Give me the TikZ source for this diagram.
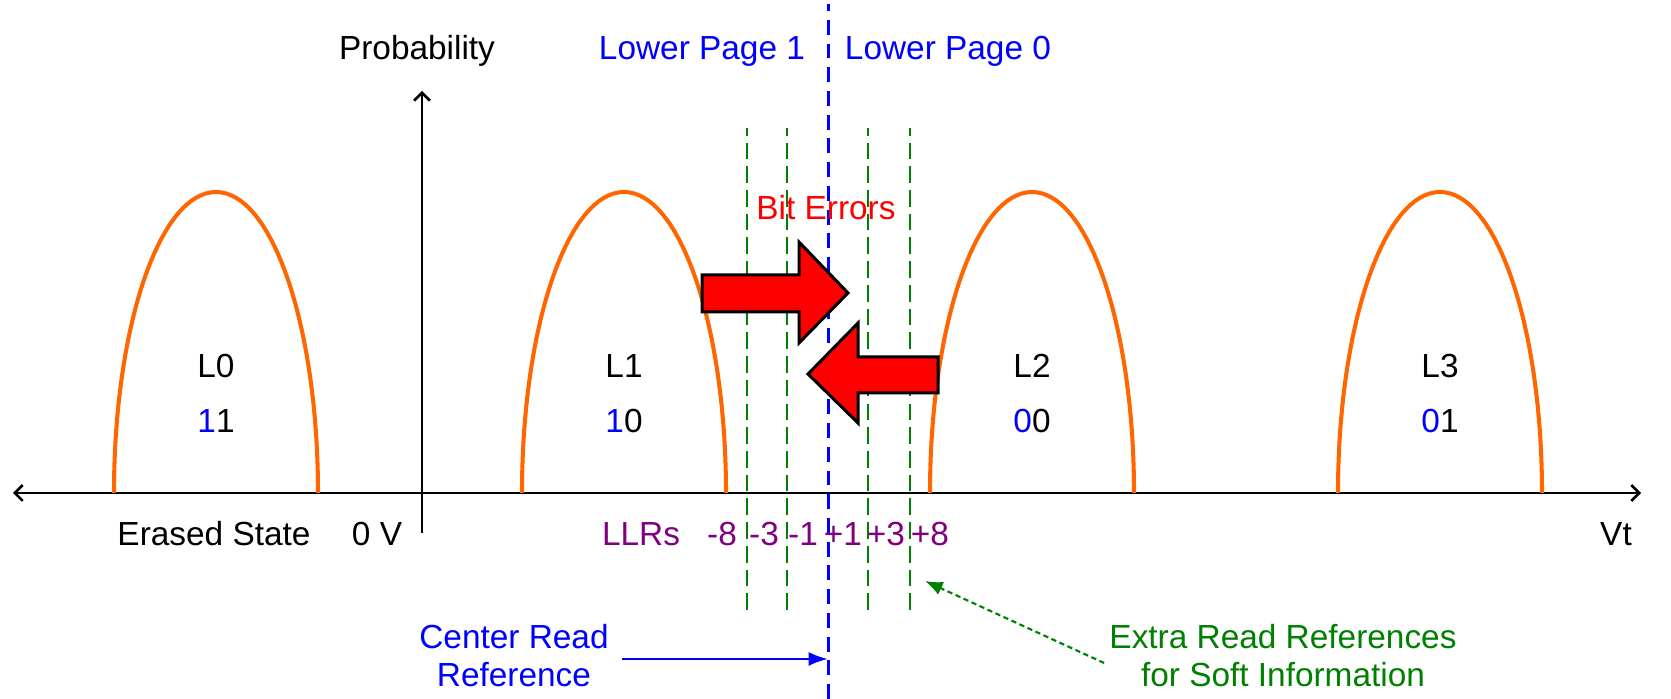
\documentclass[tikz,border=0pt]{standalone}
\usepackage{fontspec}
\setmainfont{Liberation Sans}
\usetikzlibrary{arrows.meta}
\definecolor{levelorange}{RGB}{255, 102, 0}
\definecolor{pageblue}{RGB}{0, 0, 255}
\definecolor{refgreen}{RGB}{0, 128, 0}
\definecolor{llrpurple}{RGB}{128, 0, 128}
\definecolor{errred}{RGB}{255, 0, 0}

\begin{document}
\begin{tikzpicture}[
        txt/.style={font=\fontsize{19}{22}\selectfont, inner sep=0pt, anchor=base},
        axis/.style={line width=1.5pt},
        barb/.tip={Straight Barb[length=4.5pt, width=9pt]},
        level/.style={draw=levelorange, line width=2.3pt},
        centerref/.style={draw=pageblue, line width=1.7pt, dash pattern=on 8.5pt off 5pt},
        softref/.style={draw=refgreen, line width=1.5pt, dash pattern=on 9.5pt off 4pt},
        biterr/.style={fill=errred, draw=black, line width=1.7pt, line join=miter}
    ]
    \useasboundingbox (0, 0) rectangle (33.42, 13.98);

    % Read references
    \draw[centerref] (16.56, 0) -- (16.56, 13.9);
    \foreach \x in {14.94, 15.74, 17.36, 18.20} {
        \draw[softref] (\x, 1.78) -- (\x, 11.42);
    }

    % Axes
    \coordinate (xl) at (0.26, 4.12);
    \coordinate (xr) at (32.82, 4.12);
    \coordinate (yb) at (8.44, 3.32);
    \coordinate (yt) at (8.44, 12.16);
    \draw[axis, barb-barb] (xl) -- (xr);
    \draw[axis, -barb] (yb) -- (yt);
    \node[txt] (prob) at (8.34, 12.78) {Probability};
    \node[txt] (vt) at (32.32, 3.06) {Vt};
    \node[txt] (erased) at (4.28, 3.06) {Erased State};
    \node[txt] (zero) at (7.54, 3.06) {0 V};

    % Page labels
    \node[txt, text=pageblue] (lp1) at (14.04, 12.78) {Lower Page 1};
    \node[txt, text=pageblue] (lp0) at (18.96, 12.78) {Lower Page 0};

    % Threshold voltage distributions
    \foreach \x/\n/\u/\l in {4.32/0/1/1, 12.48/1/1/0, 20.64/2/0/0, 28.80/3/0/1} {
        \draw[level] ({\x-2.04}, 4.12) arc[start angle=180, end angle=0, x radius=2.04, y radius=6.02];
        \node[txt] (L\n) at (\x, 6.42) {L\n};
        \node[txt] (bits\n) at (\x, 5.32) {\textcolor{pageblue}{\u}\l};
    }

    % LLRs
    \node[txt, text=llrpurple] (llrs) at (12.82, 3.06) {LLRs};
    \foreach \v/\x [count=\k] in {-8/14.44, -3/15.28, -1/16.06, +1/16.86, +3/17.72, +8/18.60} {
        \node[txt, text=llrpurple] (llr\k) at (\x, 3.06) {\v};
    }

    % Callouts
    \node[txt, text=pageblue, align=center, anchor=center] (crr) at (10.28, 0.87) {Center Read\\Reference};
    \coordinate (crrtip) at (16.56, 0.8);
    \draw[pageblue, line width=1.5pt, -{Latex[length=11pt, width=8pt]}] (crr.east |- crrtip) ++(0.25, 0) -- (crrtip);
    \node[txt, text=refgreen, align=center, anchor=center] (err) at (25.66, 0.87) {Extra Read References\\for Soft Information};
    \coordinate (errtip) at (18.50, 2.36);
    \draw[refgreen, line width=1.2pt, dash pattern=on 3pt off 2pt, -{Latex[length=10pt, width=8pt]}] ([xshift=-0.1cm, yshift=-0.15cm]err.west) -- (errtip);

    % Bit errors
    \node[txt, text=errred] (biterrors) at (16.52, 9.58) {Bit Errors};
    \draw[biterr] (14.04, 8.48) -- (15.98, 8.48) -- (15.98, 9.14) -- (16.96, 8.12)
        -- (15.98, 7.12) -- (15.98, 7.74) -- (14.04, 7.74) -- cycle;
    \draw[biterr] (18.76, 6.84) -- (17.16, 6.84) -- (17.16, 7.52) -- (16.16, 6.50)
        -- (17.16, 5.52) -- (17.16, 6.12) -- (18.76, 6.12) -- cycle;
\end{tikzpicture}
\end{document}
